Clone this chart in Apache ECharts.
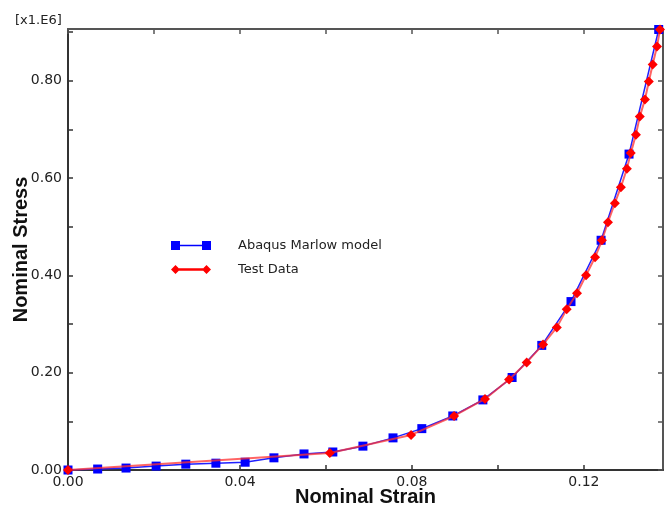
<!DOCTYPE html>
<html>
<head>
<meta charset="utf-8">
<script src="https://cdn.jsdelivr.net/npm/echarts@6/dist/echarts.min.js"></script>
<style>
  html, body { margin: 0; padding: 0; background: #fff; }
  #chart { width: 671px; height: 508px; }
</style>
</head>
<body>
<div id="chart"></div>
<script>
// values (stress in units of 1e6)
var modelStrain = [0, 0.0069, 0.0135, 0.0205, 0.0274, 0.0344, 0.0412, 0.0479, 0.0549, 0.0616,
  0.0686, 0.0756, 0.0823, 0.0895, 0.0965, 0.1033, 0.1102, 0.1170, 0.1240, 0.1305, 0.1374];
var modelStress = [0, 0.002, 0.004, 0.008, 0.012, 0.014, 0.016, 0.025, 0.033, 0.037,
  0.049, 0.066, 0.085, 0.111, 0.144, 0.190, 0.256, 0.346, 0.472, 0.649, 0.905];
var testStrain = [0, 0.0609, 0.0798, 0.0898, 0.0970, 0.1026, 0.1067, 0.1105, 0.1137, 0.1160,
  0.1184, 0.1205, 0.1226, 0.1242, 0.1256, 0.1272, 0.1286, 0.1300, 0.1309, 0.1321, 0.1330,
  0.1342, 0.1351, 0.1360, 0.1370, 0.1377];
var testStress = [0, 0.035, 0.072, 0.111, 0.146, 0.186, 0.221, 0.258, 0.293, 0.330,
  0.363, 0.400, 0.437, 0.472, 0.509, 0.548, 0.581, 0.619, 0.651, 0.689, 0.726,
  0.761, 0.798, 0.833, 0.870, 0.905];
var xLabels = ["0.00", "0.04", "0.08", "0.12"];
var yLabels = ["0.00", "0.20", "0.40", "0.60", "0.80"];

function pairs(xs, ys) {
  var out = [];
  for (var i = 0; i < xs.length; i++) out.push([xs[i], ys[i]]);
  return out;
}
function pick(list) {
  return function (v) {
    var s = v.toFixed(2);
    return list.indexOf(s) >= 0 && Math.abs(v - parseFloat(s)) < 1e-6 ? s : '';
  };
}

var font = "'DejaVu Sans', Verdana, sans-serif";
var titleFont = "'Liberation Sans', Arial, sans-serif";
var xMax = 0.1384, yMax = 0.906;

var myChart = echarts.init(document.getElementById('chart'));
var option = {
  backgroundColor: '#fff',
  animation: false,
  title: {
    text: '[x1.E6]',
    left: 10, top: 9,
    textStyle: { fontFamily: font, fontSize: 13, fontWeight: 'normal', color: '#222' }
  },
  grid: { left: 68, right: 8, top: 29, bottom: 38, outerBoundsMode: 'none', containLabel: false },
  legend: {
    orient: 'vertical',
    left: 166, top: 234,
    itemWidth: 40, itemHeight: 10, itemGap: 11,
    textStyle: { fontFamily: font, fontSize: 13, color: '#222', padding: [0, 0, 0, 22] },
    data: [
      { name: 'Abaqus Marlow model', icon: 'path://M0,0H9V9H0Z M9,3.7H31V5.3H9Z M31,0H40V9H31Z' },
      { name: 'Test Data', icon: 'path://M0,4.5L4.5,0L9,4.5L4.5,9Z M8,3.2H32V5.8H8Z M31,4.5L35.5,0L40,4.5L35.5,9Z' }
    ]
  },
  xAxis: [{
    type: 'value', position: 'bottom', min: 0, max: xMax, interval: 0.02,
    name: 'Nominal Strain', nameLocation: 'middle', nameGap: 17, nameMoveOverlap: false,
    nameTextStyle: { fontFamily: titleFont, fontSize: 20, fontWeight: 'bold', color: '#111' },
    axisLine: { onZero: false, lineStyle: { color: '#333', width: 2 } },
    axisTick: { inside: true, length: 5, lineStyle: { color: '#333', width: 1.5 } },
    axisLabel: { margin: 5, fontFamily: font, fontSize: 14, color: '#222', showMaxLabel: false, formatter: pick(xLabels) },
    splitLine: { show: false }
  }, {
    type: 'value', position: 'top', min: 0, max: xMax, interval: 0.02,
    axisLine: { onZero: false, lineStyle: { color: '#555', width: 2 } },
    axisTick: { inside: true, length: 5, lineStyle: { color: '#555', width: 1.5 } },
    axisLabel: { show: false },
    splitLine: { show: false }
  }],
  yAxis: [{
    type: 'value', position: 'left', min: 0, max: yMax, interval: 0.1,
    name: 'Nominal Stress', nameLocation: 'middle', nameGap: 37, nameMoveOverlap: false,
    nameTextStyle: { fontFamily: titleFont, fontSize: 20, fontWeight: 'bold', color: '#111' },
    axisLine: { show: true, onZero: false, lineStyle: { color: '#333', width: 2 } },
    axisTick: { show: true, inside: true, length: 5, lineStyle: { color: '#333', width: 1.5 } },
    axisLabel: { margin: 6, fontFamily: font, fontSize: 14, color: '#222', showMaxLabel: false, formatter: pick(yLabels) },
    splitLine: { show: false }
  }, {
    type: 'value', position: 'right', min: 0, max: yMax, interval: 0.1,
    axisLine: { show: true, onZero: false, lineStyle: { color: '#555', width: 2 } },
    axisTick: { show: true, inside: true, length: 5, lineStyle: { color: '#555', width: 1.5 } },
    axisLabel: { show: false },
    splitLine: { show: false }
  }],
  series: [
    {
      name: 'Abaqus Marlow model',
      type: 'line',
      data: pairs(modelStrain, modelStress),
      symbol: 'rect', symbolSize: 9, showAllSymbol: true,
      itemStyle: { color: '#0000ff' },
      lineStyle: { color: '#2020ff', width: 1.5 },
      z: 2
    },
    {
      name: 'Test Data',
      type: 'line',
      data: pairs(testStrain, testStress),
      symbol: 'diamond', symbolSize: 10, showAllSymbol: true,
      itemStyle: { color: '#ff0000' },
      lineStyle: { color: '#ff3030', width: 2, opacity: 0.75 },
      z: 3
    }
  ]
};
myChart.setOption(option, true);
</script>
</body>
</html>
